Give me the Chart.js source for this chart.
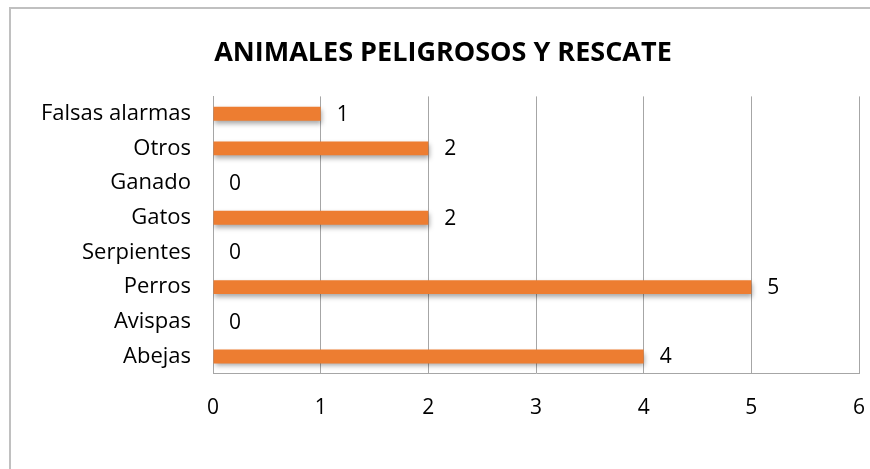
<!DOCTYPE html>
<html>
<head>
<meta charset="utf-8">
<script src="https://cdn.jsdelivr.net/npm/chart.js@4"></script>
<style>
    html, body { margin: 0; padding: 0; background: #fff; }
    #wrap { position: relative; width: 870px; height: 469px; overflow: hidden; }
    #frame { position: absolute; left: 9px; top: 7px; width: 900px; height: 500px; border: 2px solid #c0c0c0; box-sizing: border-box; }
    canvas { position: absolute; left: 0; top: 0; }
</style>
</head>
<body>
<div id="wrap">
    <div id="frame"></div>
    <canvas id="mainChart" width="870" height="469"></canvas>
</div>
<script>
// Data (top to bottom)
const categories = ['Falsas alarmas', 'Otros', 'Ganado', 'Gatos', 'Serpientes', 'Perros', 'Avispas', 'Abejas'];
const values = [1, 2, 0, 2, 0, 5, 0, 4];
const xTicks = [0, 1, 2, 3, 4, 5, 6];
const chartTitle = 'ANIMALES PELIGROSOS Y RESCATE';

const FONT = '"Open Sans", "Liberation Sans", sans-serif';

// soft drop shadow under the bars
const shadowPlugin = {
    id: 'barShadow',
    beforeDatasetsDraw(chart) {
        const ctx = chart.ctx;
        ctx.save();
        ctx.shadowColor = 'rgba(0,0,0,0.35)';
        ctx.shadowBlur = 5;
        ctx.shadowOffsetX = 1;
        ctx.shadowOffsetY = 3;
    },
    afterDatasetsDraw(chart) {
        chart.ctx.restore();
    }
};

// value labels right of each bar
const valueLabels = {
    id: 'valueLabels',
    afterDatasetsDraw(chart) {
        const ctx = chart.ctx;
        const meta = chart.getDatasetMeta(0);
        ctx.save();
        ctx.font = '21px ' + FONT;
        ctx.fillStyle = '#000';
        ctx.textAlign = 'left';
        ctx.textBaseline = 'middle';
        meta.data.forEach((bar, i) => {
            ctx.fillText(String(values[i]), bar.x + 16, bar.y + 1);
        });
        ctx.restore();
    }
};

const ctx = document.getElementById('mainChart').getContext('2d');

new Chart(ctx, {
    type: 'bar',
    data: {
        labels: categories,
        datasets: [{
            data: values,
            backgroundColor: (c) => {
                const el = c.element;
                if (!el || el.y === undefined) return '#ed7d31';
                const g = c.chart.ctx.createLinearGradient(0, el.y - 7, 0, el.y + 7);
                g.addColorStop(0, '#f3925a');
                g.addColorStop(1, '#ea7428');
                return g;
            },
            borderWidth: 0,
            barPercentage: 0.42,
            categoryPercentage: 0.95
        }]
    },
    options: {
        indexAxis: 'y',
        responsive: false,
        animation: false,
        layout: { padding: { left: 0, right: 11, top: 0, bottom: 48 } },
        plugins: {
            legend: { display: false },
            tooltip: { enabled: false },
            title: {
                display: true,
                text: '\u2003' + chartTitle,
                color: '#000',
                font: { family: FONT, size: 27, weight: 'bold' },
                padding: { top: 37, bottom: 27 }
            }
        },
        scales: {
            x: {
                min: 0,
                max: 6,
                afterBuildTicks: (scale) => { scale.ticks = xTicks.map(v => ({ value: v })); },
                grid: { color: '#a6a6a6', lineWidth: 1, drawTicks: true, tickLength: 22, tickColor: 'rgba(0,0,0,0)' },
                border: { color: '#a6a6a6' },
                ticks: { color: '#000', font: { family: FONT, size: 21 }, padding: 0 }
            },
            y: {
                afterFit: (scale) => { scale.width = 213; },
                grid: { color: 'rgba(0,0,0,0)', drawTicks: true, tickLength: 22, tickColor: 'rgba(0,0,0,0)' },
                border: { color: '#a6a6a6' },
                ticks: { color: '#000', font: { family: FONT, size: 22 }, padding: 0 }
            }
        }
    },
    plugins: [shadowPlugin, valueLabels]
});
</script>
</body>
</html>
